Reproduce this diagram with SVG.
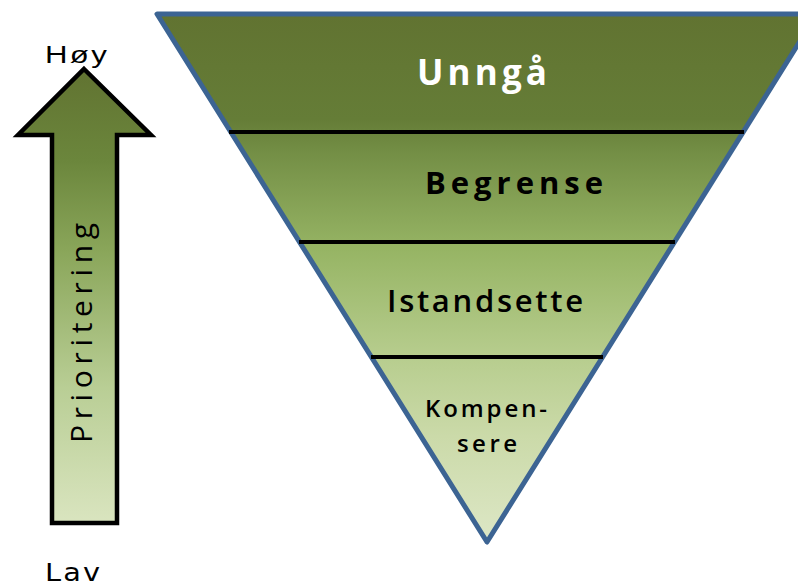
<svg xmlns="http://www.w3.org/2000/svg" width="798" height="587" viewBox="0 0 798 587">
  <defs>
    <linearGradient id="triGrad" gradientUnits="userSpaceOnUse" x1="0" y1="14" x2="0" y2="542">
      <stop offset="0" stop-color="#617331"/>
      <stop offset="0.2" stop-color="#657d37"/>
      <stop offset="0.26" stop-color="#738e45"/>
      <stop offset="0.45" stop-color="#97b565"/>
      <stop offset="0.65" stop-color="#b7cd8e"/>
      <stop offset="0.8" stop-color="#cbdaa9"/>
      <stop offset="1" stop-color="#dde7c6"/>
    </linearGradient>
    <linearGradient id="arrowGrad" gradientUnits="userSpaceOnUse" x1="0" y1="69" x2="0" y2="525">
      <stop offset="0" stop-color="#617331"/>
      <stop offset="0.2" stop-color="#6b863c"/>
      <stop offset="0.4" stop-color="#8aa65a"/>
      <stop offset="0.7" stop-color="#b9ce95"/>
      <stop offset="1" stop-color="#dae5c0"/>
    </linearGradient>
  </defs>
  <style>
    .lbl { font-family: "Open Sans", "DejaVu Sans", Verdana, sans-serif; fill: #000; }
    .band { stroke: #000; stroke-width: 4; }
  </style>
  <rect width="798" height="587" fill="#ffffff"/>

  <g id="arrow">
    <polygon points="84,69 151,135 117,135 117,523 52,523 52,135 18,135" fill="url(#arrowGrad)" stroke="#000" stroke-width="4.5" stroke-linejoin="miter"/>
    <text class="lbl" font-size="30" font-weight="500" transform="translate(92,443) rotate(-90)" textLength="220" lengthAdjust="spacing">Prioritering</text>
  </g>

  <g id="label-hoy">
    <text font-family="'Liberation Sans', Arial, sans-serif" font-size="24" fill="#000" transform="translate(45,63) scale(1.3,1)" textLength="47.5" lengthAdjust="spacing">Høy</text>
  </g>
  <g id="label-lav">
    <text font-family="'DejaVu Sans', Verdana, sans-serif" font-size="24" fill="#000" transform="translate(45,581) scale(1.2,1)" textLength="45.8" lengthAdjust="spacing">Lav</text>
  </g>

  <g id="triangle">
    <polygon points="157,14 817,14 487,542" fill="url(#triGrad)" stroke="#3c6493" stroke-width="5" stroke-linejoin="round"/>
  </g>

  <g id="connectors">
    <line class="band" x1="229" y1="132" x2="744" y2="132"/>
    <line class="band" x1="299" y1="242" x2="675" y2="242"/>
    <line class="band" x1="371" y1="357" x2="603" y2="357"/>
  </g>

  <g id="level-unnga">
    <text class="lbl" font-size="35" font-weight="bold" x="417" y="85" style="fill:#ffffff" textLength="130" lengthAdjust="spacing">Unngå</text>
  </g>
  <g id="level-begrense">
    <text class="lbl" font-size="31" font-weight="bold" x="425" y="194" textLength="178" lengthAdjust="spacing">Begrense</text>
  </g>
  <g id="level-istandsette">
    <text class="lbl" font-size="31" font-weight="600" x="387" y="312" textLength="196" lengthAdjust="spacing">Istandsette</text>
  </g>
  <g id="level-kompensere">
    <text class="lbl" font-size="24" font-weight="600" x="425" y="417" textLength="122" lengthAdjust="spacing">Kompen-</text>
    <text class="lbl" font-size="24" font-weight="600" x="457" y="452" textLength="60" lengthAdjust="spacing">sere</text>
  </g>
</svg>
